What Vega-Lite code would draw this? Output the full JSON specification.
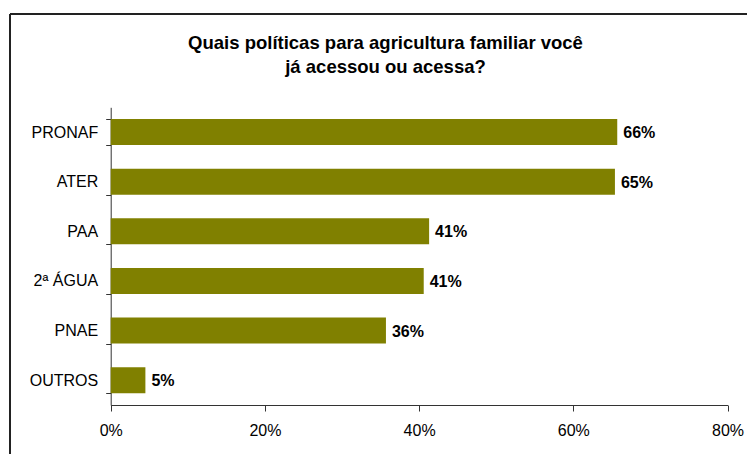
{
  "$schema": "https://vega.github.io/schema/vega-lite/v6.json",
  "width": 737,
  "height": 440,
  "autosize": {"type": "none"},
  "padding": {"left": 10, "top": 14, "right": 0, "bottom": 0},
  "background": "white",
  "config": {
    "view": {"stroke": "#222222", "strokeWidth": 2, "strokeDash": [737, 1177, 440, 0]},
    "font": "Liberation Sans"
  },
  "title": {
    "text": ["Quais políticas para agricultura familiar você", "já acessou ou acessa?"],
    "fontSize": 18.5,
    "fontWeight": "bold",
    "font": "Liberation Sans",
    "color": "black",
    "anchor": "middle",
    "frame": "group",
    "offset": -70,
    "dx": 7,
    "lineHeight": 24
  },
  "data": {
    "values": [
      {"policy": "PRONAF", "pct": 65.7, "label": "66%"},
      {"policy": "ATER", "pct": 65.4, "label": "65%"},
      {"policy": "PAA", "pct": 41.3, "label": "41%"},
      {"policy": "2ª ÁGUA", "pct": 40.6, "label": "41%"},
      {"policy": "PNAE", "pct": 35.7, "label": "36%"},
      {"policy": "OUTROS", "pct": 4.5, "label": "5%"}
    ]
  },
  "encoding": {
    "x": {
      "field": "pct",
      "type": "quantitative",
      "scale": {"domain": [0, 80], "range": [100.7, 717.5], "nice": false},
      "axis": {
        "title": null,
        "values": [0, 20, 40, 60, 80],
        "labelExpr": "datum.value + '%'",
        "labelFlush": false,
        "labelOverlap": false,
        "grid": false,
        "offset": -49,
        "domainColor": "#333333",
        "tickColor": "#333333",
        "domainWidth": 1,
        "tickWidth": 1,
        "tickSize": 6,
        "labelFontSize": 16,
        "labelColor": "black",
        "labelPadding": 11,
        "labelFont": "Liberation Sans"
      }
    },
    "y": {
      "field": "policy",
      "type": "nominal",
      "sort": null,
      "scale": {"range": [93.3, 391], "paddingInner": 0.476, "paddingOuter": 0.238},
      "axis": {
        "title": null,
        "offset": -100.7,
        "tickBand": "extent",
        "domainColor": "#333333",
        "tickColor": "#333333",
        "domainWidth": 1,
        "tickWidth": 1,
        "tickSize": 5,
        "labelFontSize": 16,
        "labelColor": "black",
        "labelPadding": 8,
        "labelFont": "Liberation Sans"
      }
    }
  },
  "layer": [
    {"mark": {"type": "bar", "color": "#808000"}},
    {
      "mark": {"type": "text", "align": "left", "baseline": "middle", "dx": 6, "dy": 1, "fontSize": 16, "fontWeight": "bold", "color": "black", "font": "Liberation Sans"},
      "encoding": {"text": {"field": "label"}}
    }
  ]
}
